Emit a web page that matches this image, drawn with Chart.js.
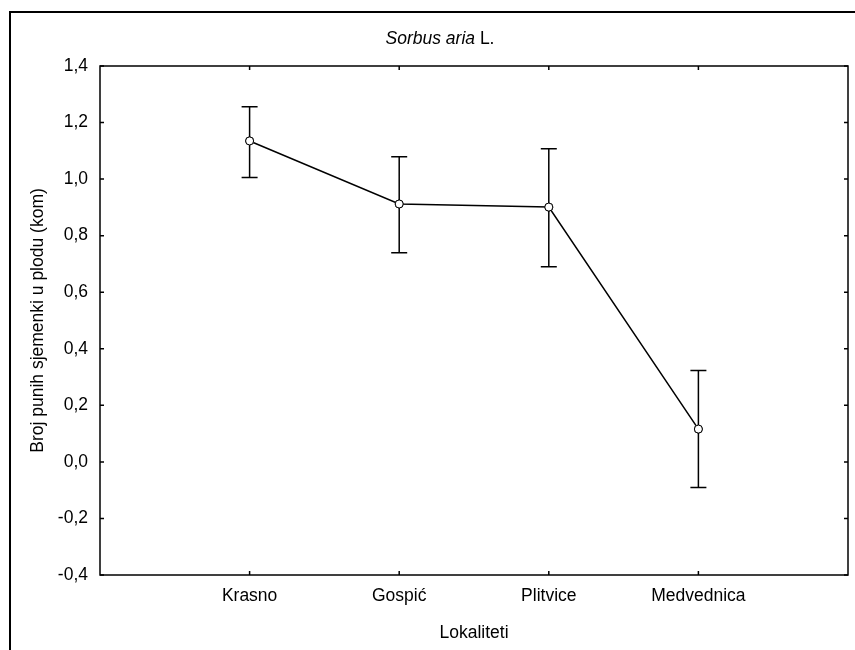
<!DOCTYPE html>
<html>
<head>
<meta charset="utf-8">
<script src="https://cdn.jsdelivr.net/npm/chart.js@4.4.1/dist/chart.umd.min.js"></script>
<style>
  html, body { margin: 0; padding: 0; background: #fff; }
  #wrap { width: 855px; height: 650px; position: relative; }
</style>
</head>
<body>
<div id="wrap"><canvas id="seedChart"></canvas></div>
<script>
// data
const localities = ['Krasno', 'Gospić', 'Plitvice', 'Medvednica'];
const means = [1.135, 0.912, 0.901, 0.116];
const upper = [1.256, 1.079, 1.107, 0.323];
const lower = [1.006, 0.740, 0.690, -0.091];
const yTicks = [-0.4, -0.2, 0.0, 0.2, 0.4, 0.6, 0.8, 1.0, 1.2, 1.4];

const FONT = 'Liberation Sans, Arial, sans-serif';
const FS = 17.5;

// outer frame, plot box, inward ticks, title
const decor = {
  id: 'decor',
  beforeDraw(chart) {
    const c = chart.ctx;
    c.save();
    c.strokeStyle = '#000';
    c.lineWidth = 2;
    c.strokeRect(10, 12, 900, 700);
    c.restore();
  },
  afterDraw(chart) {
    const c = chart.ctx;
    const a = chart.chartArea;
    const xs = chart.scales.x, ys = chart.scales.y;
    c.save();
    c.strokeStyle = '#000';
    c.lineWidth = 1.5;
    c.strokeRect(a.left, a.top, a.right - a.left, a.bottom - a.top);
    c.beginPath();
    yTicks.forEach(v => {
      const y = ys.getPixelForValue(v);
      c.moveTo(a.left, y); c.lineTo(a.left + 4, y);
      c.moveTo(a.right, y); c.lineTo(a.right - 4, y);
    });
    localities.forEach((_, i) => {
      const x = xs.getPixelForValue(i + 1);
      c.moveTo(x, a.top); c.lineTo(x, a.top + 4);
      c.moveTo(x, a.bottom); c.lineTo(x, a.bottom - 4);
    });
    c.stroke();

    // title with italic species name
    c.fillStyle = '#000';
    c.textBaseline = 'middle';
    c.font = 'italic ' + FS + 'px ' + FONT;
    const p1 = 'Sorbus aria';
    const w1 = c.measureText(p1).width;
    c.font = FS + 'px ' + FONT;
    const p2 = ' L.';
    const w2 = c.measureText(p2).width;
    const x0 = 440 - (w1 + w2) / 2;
    c.font = 'italic ' + FS + 'px ' + FONT;
    c.textAlign = 'left';
    c.fillText(p1, x0, 39);
    c.font = FS + 'px ' + FONT;
    c.fillText(p2, x0 + w1, 39);
    c.restore();
  }
};

// error bars drawn through the chart scales
const errorBars = {
  id: 'errorBars',
  afterDatasetsDraw(chart) {
    const c = chart.ctx;
    const xs = chart.scales.x, ys = chart.scales.y;
    c.save();
    c.strokeStyle = '#000';
    c.lineWidth = 1.5;
    c.beginPath();
    localities.forEach((_, i) => {
      const x = xs.getPixelForValue(i + 1);
      const yt = ys.getPixelForValue(upper[i]);
      const yb = ys.getPixelForValue(lower[i]);
      c.moveTo(x, yt); c.lineTo(x, yb);
      c.moveTo(x - 8, yt); c.lineTo(x + 8, yt);
      c.moveTo(x - 8, yb); c.lineTo(x + 8, yb);
    });
    c.stroke();
    c.restore();
    // redraw the points on top of the bars
    const meta = chart.getDatasetMeta(0);
    meta.data.forEach(pt => pt.draw(c));
  }
};

const ctx = document.getElementById('seedChart').getContext('2d');
const seedChart = new Chart(ctx, {
  type: 'line',
  data: {
    datasets: [{
      data: means.map((m, i) => ({ x: i + 1, y: m })),
      borderColor: '#000',
      borderWidth: 1.5,
      pointRadius: 4,
      pointBackgroundColor: '#fff',
      pointBorderColor: '#000',
      pointBorderWidth: 1,
      tension: 0
    }]
  },
  options: {
    responsive: true,
    maintainAspectRatio: false,
    animation: false,
    layout: { padding: { top: 66, right: 7, left: 28, bottom: 0 } },
    plugins: {
      legend: { display: false },
      tooltip: { enabled: false }
    },
    scales: {
      x: {
        type: 'linear',
        min: 0,
        max: 5,
        afterBuildTicks: (s) => { s.ticks = localities.map((_, i) => ({ value: i + 1 })); },
        afterFit: (s) => { s.height = 75; },
        grid: { display: false },
        border: { display: false },
        ticks: {
          color: '#000',
          font: { family: FONT, size: FS },
          padding: 3,
          maxRotation: 0,
          autoSkip: false,
          callback: (v) => localities[v - 1]
        },
        title: {
          display: true,
          text: 'Lokaliteti',
          color: '#000',
          font: { family: FONT, size: FS },
          padding: { top: 0, bottom: 6 }
        }
      },
      y: {
        min: -0.4,
        max: 1.4,
        afterBuildTicks: (s) => { s.ticks = yTicks.map(v => ({ value: v })); },
        afterFit: (s) => { s.width = 72; },
        grid: { display: false },
        border: { display: false },
        ticks: {
          color: '#000',
          font: { family: FONT, size: FS },
          padding: 4,
          callback: (v) => (Math.abs(v) < 1e-9 ? 0 : v).toFixed(1).replace('.', ',')
        },
        title: {
          display: true,
          text: 'Broj punih sjemenki u plodu (kom)',
          color: '#000',
          font: { family: FONT, size: FS },
          padding: { top: 0, bottom: 0 }
        }
      }
    }
  },
  plugins: [decor, errorBars]
});
</script>
</body>
</html>
